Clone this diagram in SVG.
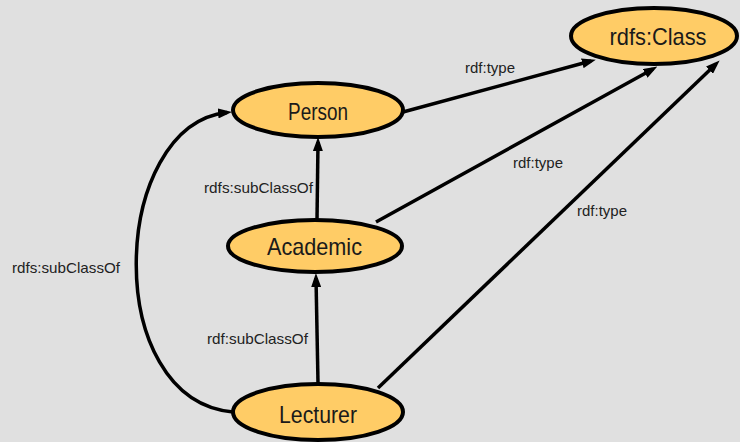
<svg xmlns="http://www.w3.org/2000/svg" width="740" height="442" viewBox="0 0 740 442">
<style>
.node ellipse{fill:#ffcc66;stroke:#000;stroke-width:4}
.node text{font-family:"Liberation Sans",Arial,sans-serif;font-size:24px;fill:#1a1a1a;text-anchor:middle}
.edge{fill:none;stroke:#000;stroke-width:3.5;marker-end:url(#arr)}
.lbl{font-family:"Liberation Sans",Arial,sans-serif;font-size:15px;fill:#222}
</style>
<defs>
<marker id="arr" markerUnits="userSpaceOnUse" markerWidth="14" markerHeight="10" refX="9" refY="5" orient="auto">
<path d="M0,0 L14,5 L0,10 z" fill="#000"/>
</marker>
</defs>
<rect width="740" height="442" fill="#e0e0e0"/>
<g id="connectors">
<line class="edge" x1="403" y1="112" x2="591" y2="61"/>
<line class="edge" x1="376" y1="222" x2="653" y2="69"/>
<line class="edge" x1="378" y1="388" x2="716" y2="64"/>
<line class="edge" x1="317" y1="220" x2="318" y2="142"/>
<line class="edge" x1="318" y1="383" x2="316" y2="278"/>
<path class="edge" d="M233 412 C100 400 110 125 227 112.5"/>
<text class="lbl" x="465" y="73" textLength="50" lengthAdjust="spacingAndGlyphs">rdf:type</text>
<text class="lbl" x="513" y="168" textLength="50" lengthAdjust="spacingAndGlyphs">rdf:type</text>
<text class="lbl" x="577" y="216" textLength="50" lengthAdjust="spacingAndGlyphs">rdf:type</text>
<text class="lbl" x="204" y="193" textLength="109" lengthAdjust="spacingAndGlyphs">rdfs:subClassOf</text>
<text class="lbl" x="207" y="344" textLength="101" lengthAdjust="spacingAndGlyphs">rdf:subClassOf</text>
<text class="lbl" x="12" y="273" textLength="108" lengthAdjust="spacingAndGlyphs">rdfs:subClassOf</text>
</g>
<g id="rdfsClass" class="node">
<ellipse cx="654" cy="36" rx="83" ry="28"/>
<text x="658" y="45" textLength="97" lengthAdjust="spacingAndGlyphs">rdfs:Class</text>
</g>
<g id="Person" class="node">
<ellipse cx="318" cy="110" rx="85" ry="27"/>
<text x="318" y="120" textLength="60" lengthAdjust="spacingAndGlyphs">Person</text>
</g>
<g id="Academic" class="node">
<ellipse cx="315" cy="246" rx="87" ry="26"/>
<text x="314.5" y="255" textLength="95" lengthAdjust="spacingAndGlyphs">Academic</text>
</g>
<g id="Lecturer" class="node">
<ellipse cx="318" cy="412" rx="85" ry="28"/>
<text x="318" y="423" textLength="78" lengthAdjust="spacingAndGlyphs">Lecturer</text>
</g>
</svg>
